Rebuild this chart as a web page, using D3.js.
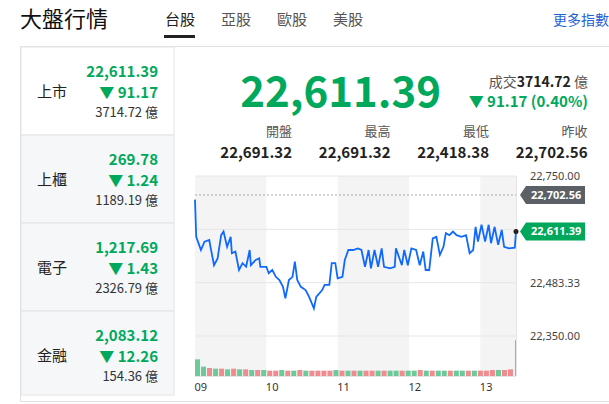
<!DOCTYPE html>
<html><head><meta charset="utf-8">
<script src="https://cdn.jsdelivr.net/npm/d3@7"></script>
<style>body{margin:0;background:#fff;}svg{font-family:"Noto Sans CJK TC","Noto Sans",sans-serif;}</style>
</head><body><svg></svg>
<script>
// market summary rows
let names = ['上市', '上櫃', '電子', '金融'];
let prices = ['22,611.39', '269.78', '1,217.69', '2,083.12'];
let changes = ['91.17', '1.24', '1.43', '12.26'];
let turnovers = ['3714.72', '1189.19', '2326.79', '154.36'];
let tabs = ['台股', '亞股', '歐股', '美股'];
let statLabels = ['開盤', '最高', '最低', '昨收'];
let statValues = ['22,691.32', '22,691.32', '22,418.38', '22,702.56'];

// intraday series, minutes from 09:00
let minutes = [0,1,5,8,12,13,16,19,22,24,27,30,31,34,37,40,43,46,47,51,54,55,60,62,65,68,71,74,76,79,82,84,86,89,93,96,100,102,107,109,113,115,118,120,124,126,129,133,137,140,143,146,148,151,154,157,159,164,168,169,174,176,179,182,186,189,192,194,197,200,203,206,209,211,214,217,220,224,228,231,234,236,238,241,244,247,249,252,255,258,260,264,269,270];
let index = [22691,22598,22565,22586,22590,22573,22527,22544,22602,22611,22573,22598,22557,22561,22515,22532,22523,22565,22527,22540,22544,22523,22523,22507,22515,22498,22490,22473,22444,22490,22498,22536,22490,22473,22465,22448,22419,22448,22465,22478,22478,22532,22532,22494,22498,22540,22565,22565,22569,22565,22523,22565,22519,22565,22523,22569,22523,22519,22523,22569,22527,22565,22527,22569,22565,22527,22561,22515,22515,22594,22598,22553,22573,22607,22602,22611,22602,22598,22602,22557,22565,22623,22586,22628,22586,22628,22582,22623,22578,22615,22573,22569,22571,22611.39];
let volume = [25,14,12,11,11,10,11,10,10,9,9,9,8,8,9,8,8,9,8,8,8,8,8,9,8,8,8,8,8,8,8,8,8,8,8,8,8,9,8,8,8,8,8,8,8,8,8,8,8,9,9,9,10];
let volumeUp = [1,1,0,1,0,1,0,1,0,1,0,1,0,0,1,0,1,0,1,0,0,0,0,1,0,1,0,1,0,0,1,0,1,1,0,1,1,0,1,0,1,1,0,1,1,0,1,0,0,0,1,0,0];
let closingAuction = 54;
let yTicks = [22750, 22483.33, 22350];
let prevClose = 22702.56;
let hourTicks = [0, 60, 120, 180, 240];
let hourLabels = ['09', '10', '11', '12', '13'];

let green = '#00a85b', blue = '#0f69ff';
let svg = d3.select('svg').attr('width', 609).attr('height', 404);

// header
svg.append('text').attr('x', 20).attr('y', 27).attr('font-size', 22).attr('fill', '#111').text('大盤行情');
tabs.forEach((t, i) => {
    svg.append('text').attr('x', 165 + i * 56).attr('y', 25).attr('font-size', 15)
        .attr('fill', i == 0 ? '#222' : '#555').text(t);
});
svg.append('rect').attr('x', 164).attr('y', 35).attr('width', 31).attr('height', 3).attr('fill', '#222');
svg.append('text').attr('x', 609).attr('y', 25).attr('text-anchor', 'end').attr('font-size', 14).attr('fill', '#1f63d6').text('更多指數');

// panel
svg.append('rect').attr('x', 20.5).attr('y', 46.5).attr('width', 600).attr('height', 355).attr('fill', 'none').attr('stroke', '#e2e2e2');
let rowH = 88;
names.forEach((n, i) => {
    let y0 = 47 + i * rowH;
    svg.append('rect').attr('x', 21).attr('y', y0).attr('width', 153).attr('height', i == 3 ? 84 : rowH)
        .attr('fill', i == 0 ? '#fff' : '#f5f7f9').attr('stroke', '#e2e4e6');
    svg.append('text').attr('x', 37).attr('y', y0 + 50).attr('font-size', 15).attr('fill', '#222').text(n);
    svg.append('text').attr('x', 158).attr('y', y0 + 30).attr('text-anchor', 'end').attr('font-size', 15).attr('font-weight', 'bold').attr('fill', green).text(prices[i]);
    svg.append('text').attr('x', 158).attr('y', y0 + 51).attr('text-anchor', 'end').attr('font-size', 15).attr('font-weight', 'bold').attr('fill', green).text('▼ ' + changes[i]);
    svg.append('text').attr('x', 158).attr('y', y0 + 70).attr('text-anchor', 'end').attr('font-size', 13).attr('fill', '#333').text(turnovers[i] + ' 億');
});

// big quote
svg.append('text').attr('x', 441).attr('y', 107).attr('text-anchor', 'end').attr('font-size', 42).attr('font-weight', 'bold').attr('fill', green).text(prices[0]);
let t1 = svg.append('text').attr('x', 588).attr('y', 87).attr('text-anchor', 'end').attr('font-size', 14).attr('fill', '#555');
t1.append('tspan').text('成交');
t1.append('tspan').attr('font-weight', 'bold').attr('fill', '#222').text(turnovers[0]);
t1.append('tspan').text(' 億');
svg.append('text').attr('x', 588).attr('y', 107).attr('text-anchor', 'end').attr('font-size', 15).attr('font-weight', 'bold').attr('fill', green).text('▼ 91.17 (0.40%)');
statLabels.forEach((s, i) => {
    let x = 292 + i * 98.5;
    svg.append('text').attr('x', x).attr('y', 136).attr('text-anchor', 'end').attr('font-size', 13).attr('fill', '#555').text(s);
    svg.append('text').attr('x', x).attr('y', 158).attr('text-anchor', 'end').attr('font-size', 15).attr('font-weight', 'bold').attr('fill', '#222').text(statValues[i]);
});

// chart
let xScale = d3.scaleLinear().domain([0, 270]).range([195, 516]);
let yScale = d3.scaleLinear().domain([22350, 22750]).range([336, 176]);
let vScale = d3.scaleLinear().domain([0, 60]).range([376, 336]);

[0, 120, 240].forEach(m => {
    svg.append('rect').attr('x', xScale(m)).attr('y', 176)
        .attr('width', xScale(Math.min(m + 60, 270)) - xScale(m)).attr('height', 200).attr('fill', '#f4f4f4');
});
yTicks.forEach(v => {
    svg.append('line').attr('x1', 195).attr('x2', 516).attr('y1', yScale(v)).attr('y2', yScale(v)).attr('stroke', '#e6e6e6');
});
svg.append('line').attr('x1', 195).attr('x2', 516).attr('y1', yScale(22616.67)).attr('y2', yScale(22616.67)).attr('stroke', '#e6e6e6');
svg.append('line').attr('x1', 516.5).attr('x2', 516.5).attr('y1', 176).attr('y2', 376).attr('stroke', '#e6e6e6');
svg.append('line').attr('x1', 195).attr('x2', 516).attr('y1', 376.5).attr('y2', 376.5).attr('stroke', '#e6e6e6');

let yAxis = d3.axisRight(yScale).tickValues(yTicks).tickSize(0).tickFormat(d3.format(',.2f'));
let ya = svg.append('g').attr('transform', 'translate(527,0)').call(yAxis);
ya.select('.domain').remove();
ya.selectAll('text').attr('font-size', 11).attr('fill', '#444').attr('font-family', 'Noto Sans');

let xAxis = d3.axisBottom(xScale).tickValues(hourTicks).tickSize(0).tickFormat((d, i) => hourLabels[i]);
let xa = svg.append('g').attr('transform', 'translate(0,380)').call(xAxis);
xa.select('.domain').remove();
xa.selectAll('text').attr('font-size', 11).attr('fill', '#333').attr('text-anchor', 'start').attr('dx', -1).attr('font-family', 'Noto Sans');

// volume bars
let bw = (514 - 195) / volume.length;
svg.append('g').selectAll('rect').data(volume).join('rect')
    .attr('x', (d, i) => 195 + i * bw).attr('width', bw - 1)
    .attr('y', d => vScale(d)).attr('height', d => 376 - vScale(d))
    .attr('fill', (d, i) => volumeUp[i] ? '#6cc99a' : '#ef8c90');
svg.append('rect').attr('x', 515).attr('width', 1).attr('y', vScale(closingAuction))
    .attr('height', 376 - vScale(closingAuction)).attr('fill', '#ef8c90');

// previous close line
svg.append('line').attr('x1', 195).attr('x2', 516).attr('y1', yScale(prevClose)).attr('y2', yScale(prevClose))
    .attr('stroke', '#aaa').attr('stroke-dasharray', '2,2');

let line = d3.line().x((d, i) => xScale(minutes[i])).y(d => yScale(d));
svg.append('path').datum(index).attr('d', line).attr('fill', 'none').attr('stroke', blue).attr('stroke-width', 1.8);
svg.append('circle').attr('cx', xScale(270)).attr('cy', yScale(22611.39)).attr('r', 2.5).attr('fill', '#222');

// price tags
let tag = (v, col) => {
    let y = yScale(v);
    svg.append('path').attr('d', `M520,${y} L526,${y - 9} L585,${y - 9} L585,${y + 9} L526,${y + 9} Z`).attr('fill', col);
    svg.append('text').attr('x', 531).attr('y', y + 4).attr('font-size', 11).attr('font-weight', 'bold').attr('fill', '#fff')
        .attr('font-family', 'Noto Sans').text(d3.format(',.2f')(v));
};
tag(prevClose, '#5b5f66');
tag(22611.39, green);
</script></body></html>
